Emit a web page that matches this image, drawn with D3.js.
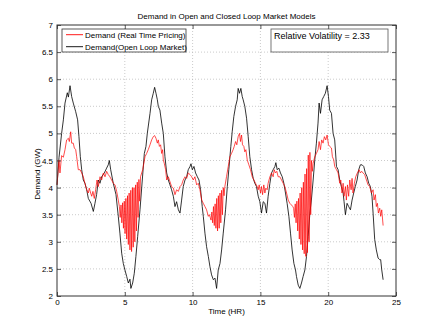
<!DOCTYPE html>
<html>
<head>
<meta charset="utf-8">
<script src="https://cdn.jsdelivr.net/npm/d3@7"></script>
<style>
  body { margin: 0; background: #fff; }
  svg { display: block; font-family: "Liberation Sans", Arial, sans-serif; }
</style>
</head>
<body>
<div id="chart"></div>
<script>
// demand with real time pricing (red)
const rtpHours = [0, 0.15, 0.22, 0.34, 0.47, 0.59, 0.71, 0.84, 0.91, 1.01, 1.08, 1.2, 1.28, 1.38, 1.45, 1.57, 1.7, 1.82, 1.94, 2.06, 2.19, 2.31, 2.38, 2.48, 2.56, 2.65, 2.75, 2.85, 2.95, 3.05, 3.17, 3.29, 3.42, 3.54, 3.66, 3.78, 3.9, 4.03, 4.15, 4.28, 4.4, 4.52,
  4.60, 4.66, 4.72, 4.78, 4.84, 4.90, 4.96, 5.02, 5.08, 5.14, 5.20, 5.26, 5.32, 5.38, 5.44, 5.50, 5.56, 5.62, 5.68, 5.74, 5.80, 5.86, 5.92, 5.98, 6.04, 6.10, 6.16,
  6.32, 6.49, 6.61, 6.73, 6.86, 6.98, 7.1, 7.2, 7.3, 7.4, 7.47, 7.55, 7.64, 7.72, 7.79, 7.84, 7.91, 8.01, 8.09, 8.21, 8.33, 8.45, 8.58, 8.7, 8.82, 8.95, 9.07, 9.19, 9.31, 9.44, 9.56, 9.68, 9.81, 9.93, 10.05, 10.17, 10.3, 10.42, 10.54, 10.67, 10.79, 10.91, 11.03, 11.16, 11.24,
  11.30, 11.36, 11.42, 11.48, 11.54, 11.60, 11.66, 11.72, 11.78, 11.84, 11.90, 11.96, 12.02, 12.08, 12.14, 12.20, 12.26, 12.32,
  12.38, 12.5, 12.63, 12.75, 12.87, 12.99, 13.07, 13.17, 13.26, 13.36, 13.46, 13.53, 13.61, 13.68, 13.78, 13.85, 13.93, 14.03, 14.15, 14.27, 14.4, 14.52, 14.64, 14.76, 14.84, 14.91, 15.01, 15.08, 15.16, 15.25, 15.33, 15.4, 15.5, 15.57, 15.7, 15.82, 15.94, 16.02, 16.11, 16.21, 16.31, 16.43, 16.56, 16.68, 16.8, 16.93, 17.05, 17.17, 17.29, 17.39,
  17.45, 17.51, 17.57, 17.63, 17.69, 17.75, 17.81, 17.87, 17.93, 17.99, 18.05, 18.11, 18.17, 18.23, 18.29, 18.35, 18.41, 18.47, 18.53, 18.59, 18.65, 18.71, 18.77, 18.83, 18.89,
  19.01, 19.13, 19.25, 19.33, 19.43, 19.52, 19.62, 19.72, 19.82, 19.92, 20.02, 20.11, 20.24, 20.31, 20.41, 20.48, 20.61, 20.73, 20.85, 20.93, 21.02, 21.1, 21.17, 21.27, 21.34, 21.42, 21.51, 21.59, 21.69, 21.76, 21.83, 21.93, 22.03, 22.15, 22.28, 22.37, 22.47, 22.57, 22.69, 22.82, 22.94, 23.06, 23.19, 23.31, 23.38, 23.48, 23.55, 23.63, 23.7, 23.8, 23.87, 23.95, 24.05];
const rtpDemand = [4.05, 4.51, 4.27, 4.59, 4.56, 4.7, 4.88, 4.91, 4.85, 5.03, 4.82, 4.82, 4.73, 4.7, 4.57, 4.33, 4.33, 4.27, 4.2, 4.08, 3.96, 3.9, 3.99, 3.9, 3.84, 3.93, 3.8, 3.96, 4.14, 4.02, 4.2, 4.14, 4.27, 4.2, 4.3, 4.24, 4.2, 4.14, 4.08, 4.05, 3.93, 3.77,
  3.65, 3.45, 3.68, 3.35, 3.72, 3.25, 3.75, 3.15, 3.80, 3.05, 3.85, 2.95, 3.90, 2.85, 3.95, 2.82, 4.00, 2.90, 4.00, 3.00, 4.05, 3.20, 4.10, 3.45, 4.15, 3.75, 4.2,
  4.33, 4.57, 4.63, 4.7, 4.79, 4.88, 4.94, 4.96, 4.91, 4.82, 4.88, 4.76, 4.79, 4.63, 4.7, 4.51, 4.45, 4.33, 4.14, 4.2, 4.11, 4.02, 3.99, 3.87, 3.96, 3.93, 4.02, 4.05, 4.14, 4.2, 4.17, 4.27, 4.24, 4.2, 4.14, 4.2, 4.05, 4.08, 3.96, 3.77, 3.71, 3.65, 3.59, 3.47, 3.5,
  3.45, 3.40, 3.55, 3.35, 3.65, 3.30, 3.70, 3.25, 3.80, 3.20, 3.85, 3.25, 3.90, 3.35, 3.95, 3.50, 4.00, 3.85,
  4.02, 4.2, 4.39, 4.57, 4.63, 4.7, 4.76, 4.85, 4.79, 4.94, 5.0, 4.85, 4.97, 4.79, 4.76, 4.66, 4.7, 4.51, 4.42, 4.33, 4.2, 4.14, 4.08, 4.02, 3.96, 4.05, 3.9, 4.02, 3.87, 4.05, 3.9, 3.99, 3.96, 4.08, 4.2, 4.27, 4.2, 4.33, 4.27, 4.3, 4.2, 4.2, 4.14, 4.08, 4.02, 3.9, 3.77, 3.71, 3.68, 3.65,
  3.62, 3.45, 3.70, 3.35, 3.75, 3.20, 3.80, 3.05, 3.90, 2.95, 4.00, 2.85, 4.10, 2.78, 4.25, 2.73, 4.35, 2.80, 4.60, 3.00, 4.65, 3.50, 4.50, 4.30, 4.45,
  4.57, 4.63, 4.7, 4.85, 4.7, 4.88, 4.82, 4.94, 4.88, 4.97, 4.79, 4.76, 4.73, 4.57, 4.51, 4.39, 4.33, 4.27, 4.08, 4.14, 3.9, 4.08, 3.84, 4.02, 3.77, 4.05, 3.84, 4.14, 3.96, 4.17, 3.9, 4.08, 4.2, 4.27, 4.33, 4.27, 4.3, 4.27, 4.24, 4.14, 4.05, 4.02, 3.9, 3.96, 3.77, 3.87, 3.65, 3.71, 3.53, 3.62, 3.47, 3.59, 3.3];

// demand in open loop market (black)
const olmHours = [0, 0.15, 0.34, 0.47, 0.59, 0.76, 0.84, 0.96, 1.08, 1.2, 1.38, 1.52, 1.62, 1.72, 1.82, 1.94, 2.06, 2.19, 2.31, 2.51, 2.68, 2.8, 2.92, 3.05, 3.17, 3.29, 3.49, 3.66, 3.78, 3.86, 3.96, 4.15, 4.35, 4.52, 4.64, 4.77, 4.89, 5.01, 5.14, 5.26, 5.38, 5.45, 5.58, 5.7, 5.82, 5.95, 6.12, 6.29, 6.44,
  6.56, 6.66, 6.86, 6.98, 7.1, 7.2, 7.3, 7.4, 7.47, 7.59, 7.72, 7.84, 7.96, 8.09, 8.21, 8.33, 8.45, 8.58, 8.7, 8.82, 8.95, 9.07, 9.19, 9.31, 9.44, 9.56, 9.68, 9.81, 9.88, 9.98, 10.1, 10.22, 10.35, 10.47, 10.59, 10.71, 10.79, 10.91, 11.03, 11.16, 11.28, 11.4, 11.53, 11.65, 11.77, 11.89, 12.02, 12.14, 12.26, 12.43, 12.56,
  12.67, 12.82, 12.92, 13.04, 13.17, 13.29, 13.36, 13.46, 13.56, 13.66, 13.73, 13.85, 13.98, 14.1, 14.22, 14.35, 14.47, 14.59, 14.71, 14.84, 14.96, 15.08, 15.21, 15.33, 15.45, 15.57, 15.7, 15.82, 15.94, 16.07, 16.14, 16.24, 16.36, 16.48, 16.61, 16.73, 16.85, 16.97, 17.1, 17.22, 17.34, 17.47, 17.59, 17.66, 17.79, 17.91, 18.03, 18.15, 18.28, 18.4, 18.52, 18.65,
  18.76, 18.89, 19.01, 19.13, 19.25, 19.33, 19.43, 19.55, 19.67, 19.79, 19.92, 20.02, 20.11, 20.24, 20.36, 20.48, 20.61, 20.73, 20.85, 20.97, 21.1, 21.17, 21.27, 21.39, 21.51, 21.64, 21.76, 21.88, 22.0, 22.13, 22.25, 22.37, 22.5, 22.62, 22.74, 22.87, 22.99, 23.11, 23.23, 23.31, 23.43, 23.55, 23.68, 23.8, 23.87, 23.95, 24.05];
const olmDemand = [4.05, 4.56, 5.0, 5.25, 5.56, 5.75, 5.67, 5.88, 5.68, 5.56, 5.4, 5.25, 4.94, 4.57, 4.33, 4.14, 4.08, 3.96, 3.8, 3.71, 3.56, 3.71, 3.87, 4.14, 4.08, 4.2, 4.27, 4.36, 4.42, 4.5, 4.33, 4.08, 3.87, 3.47, 3.16, 2.79, 2.6, 2.48, 2.36, 2.24, 2.31, 2.14, 2.24, 2.42, 2.73, 3.1, 3.59, 4.14, 4.63,
  4.76, 5.0, 5.37, 5.62, 5.74, 5.85, 5.74, 5.62, 5.5, 5.43, 5.19, 5.0, 4.57, 4.27, 4.14, 4.05, 3.96, 3.84, 3.65, 3.74, 3.59, 3.53, 3.77, 4.02, 4.14, 4.2, 4.33, 4.39, 4.44, 4.33, 4.39, 4.27, 4.2, 4.14, 3.96, 3.65, 3.47, 3.16, 2.91, 2.73, 2.54, 2.39, 2.3, 2.33, 2.14, 2.48, 2.6, 2.85, 3.16, 3.59, 4.02,
  4.33, 4.76, 5.03, 5.31, 5.5, 5.62, 5.83, 5.74, 5.83, 5.68, 5.62, 5.5, 5.28, 4.94, 4.57, 4.33, 4.17, 4.08, 4.02, 3.84, 3.74, 3.53, 3.74, 3.71, 3.53, 3.84, 4.08, 4.27, 4.33, 4.39, 4.46, 4.33, 4.36, 4.27, 4.2, 4.08, 3.9, 3.71, 3.47, 3.16, 2.85, 2.6, 2.48, 2.36, 2.2, 2.14, 2.24, 2.36, 2.48, 2.73, 3.1, 3.53,
  3.77, 4.14, 4.51, 4.82, 5.19, 5.56, 5.37, 5.62, 5.68, 5.74, 5.88, 5.68, 5.43, 5.37, 5.0, 4.88, 4.39, 4.33, 4.14, 4.02, 3.9, 3.74, 3.5, 3.71, 3.65, 3.59, 3.77, 3.9, 4.02, 4.14, 4.33, 4.42, 4.42, 4.39, 4.27, 4.2, 4.08, 4.02, 3.84, 3.53, 3.04, 2.85, 2.7, 2.67, 2.67, 2.48, 2.3];

const xTicks = [0, 5, 10, 15, 20, 25];
const yTicks = [2, 2.5, 3, 3.5, 4, 4.5, 5, 5.5, 6, 6.5, 7];
const legendLabels = ["Demand (Real Time Pricing)", "Demand(Open Loop Market)"];
const seriesColors = ["#ff0000", "#000000"];
const titleText = "Demand in Open and Closed Loop Market Models";
const noteText = "Relative Volatility = 2.33";

const width = 438, height = 333;
const plotLeft = 57, plotRight = 396, plotTop = 25, plotBottom = 296;

const svg = d3.select("#chart").append("svg")
  .attr("width", width)
  .attr("height", height);

svg.append("rect")
  .attr("width", width)
  .attr("height", height)
  .style("fill", "#fff");

let x = d3.scaleLinear().domain([0, 25]).range([plotLeft, plotRight]);
let y = d3.scaleLinear().domain([2, 7]).range([plotBottom, plotTop]);

// dotted grid
svg.append("g")
  .selectAll("line")
  .data(xTicks.slice(1, -1))
  .enter()
  .append("line")
    .attr("x1", d => x(d)).attr("x2", d => x(d))
    .attr("y1", plotTop).attr("y2", plotBottom)
    .style("stroke", "#b4b4b4")
    .style("stroke-width", 0.7)
    .style("stroke-dasharray", "1,2");
svg.append("g")
  .selectAll("line")
  .data(yTicks.slice(1, -1))
  .enter()
  .append("line")
    .attr("x1", plotLeft).attr("x2", plotRight)
    .attr("y1", d => y(d)).attr("y2", d => y(d))
    .style("stroke", "#b4b4b4")
    .style("stroke-width", 0.7)
    .style("stroke-dasharray", "1,2");

// lines
let line = d3.line()
  .x(d => x(d[0]))
  .y(d => y(d[1]));

const rtpData = rtpHours.map((h, i) => [h, rtpDemand[i]]);
const olmData = olmHours.map((h, i) => [h, olmDemand[i]]);

svg.append("path")
  .datum(olmData)
  .attr("d", line)
  .style("fill", "none")
  .style("stroke", seriesColors[1])
  .style("stroke-width", 0.8);
svg.append("path")
  .datum(rtpData)
  .attr("d", line)
  .style("fill", "none")
  .style("stroke", seriesColors[0])
  .style("stroke-width", 0.7);

// axes, MATLAB style: ticks inward on all four sides
const tickLen = 4;
svg.append("g")
  .attr("transform", "translate(0," + plotBottom + ")")
  .call(d3.axisBottom(x).tickValues(xTicks).tickSize(-tickLen).tickPadding(3).tickFormat(d3.format("d")))
  .call(g => g.select(".domain").remove())
  .call(g => g.selectAll("text").style("font-size", "8px").style("fill", "#000"));
svg.append("g")
  .attr("transform", "translate(0," + plotTop + ")")
  .call(d3.axisTop(x).tickValues(xTicks).tickSize(-tickLen).tickFormat(""))
  .call(g => g.select(".domain").remove());
svg.append("g")
  .attr("transform", "translate(" + plotLeft + ",0)")
  .call(d3.axisLeft(y).tickValues(yTicks).tickSize(-tickLen).tickPadding(4).tickFormat(d3.format("")))
  .call(g => g.select(".domain").remove())
  .call(g => g.selectAll("text").style("font-size", "8px").style("fill", "#000"));
svg.append("g")
  .attr("transform", "translate(" + plotRight + ",0)")
  .call(d3.axisRight(y).tickValues(yTicks).tickSize(-tickLen).tickFormat(""))
  .call(g => g.select(".domain").remove());
svg.selectAll(".tick line").style("stroke", "#333").style("stroke-width", 0.8);

svg.append("rect")
  .attr("x", plotLeft).attr("y", plotTop)
  .attr("width", plotRight - plotLeft).attr("height", plotBottom - plotTop)
  .style("fill", "none")
  .style("stroke", "#333")
  .style("stroke-width", 1);

// title and axis labels
svg.append("text")
  .attr("x", (plotLeft + plotRight) / 2)
  .attr("y", 19)
  .text(titleText)
  .style("text-anchor", "middle")
  .style("font-size", "8px");
svg.append("text")
  .attr("x", (plotLeft + plotRight) / 2)
  .attr("y", 314)
  .text("Time (HR)")
  .style("text-anchor", "middle")
  .style("font-size", "8px");
svg.append("text")
  .attr("transform", "translate(40,174) rotate(-90)")
  .text("Demand (GW)")
  .style("text-anchor", "middle")
  .style("font-size", "8px");

// legend
const legend = svg.append("g");
legend.append("rect")
  .attr("x", 62).attr("y", 29)
  .attr("width", 124).attr("height", 23)
  .style("fill", "#fff")
  .style("stroke", "#333")
  .style("stroke-width", 0.8);
legend.selectAll(".entry")
  .data(legendLabels)
  .enter()
  .append("g")
    .attr("transform", (d, i) => "translate(66," + (34.7 + i * 12) + ")")
    .each(function(d, i) {
      d3.select(this).append("line")
        .attr("x1", 0).attr("x2", 17)
        .style("stroke", seriesColors[i])
        .style("stroke-width", 0.9);
      d3.select(this).append("text")
        .attr("x", 19)
        .attr("dy", "0.35em")
        .text(d)
        .style("font-size", "8px");
    });

// volatility note
svg.append("rect")
  .attr("x", 271).attr("y", 29)
  .attr("width", 117).attr("height", 23)
  .style("fill", "#fff")
  .style("stroke", "#555")
  .style("stroke-width", 0.8);
svg.append("text")
  .attr("x", 274)
  .attr("y", 39)
  .text(noteText)
  .style("font-size", "9px");
</script>
</body>
</html>
